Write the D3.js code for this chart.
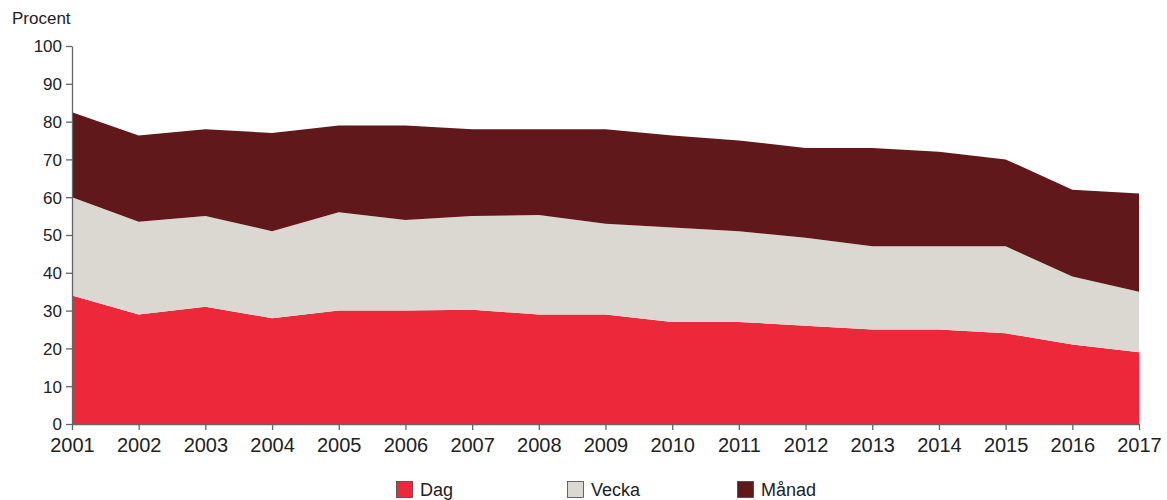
<!DOCTYPE html>
<html>
<head>
<meta charset="utf-8">
<script src="https://cdn.jsdelivr.net/npm/d3@7"></script>
<style>
  body { margin: 0; background: #fff; }
  svg { display: block; font-family: "Liberation Sans", Arial, sans-serif; }
</style>
</head>
<body>
<div id="chart"></div>
<script>
const years = [2001, 2002, 2003, 2004, 2005, 2006, 2007, 2008, 2009,
  2010, 2011, 2012, 2013, 2014, 2015, 2016, 2017];

const dag = [34, 29, 31, 28, 30, 30, 30.2, 29, 29, 27, 27, 26, 25, 25, 24, 21, 19];
const vecka = [26, 24.5, 24, 23, 26, 24, 24.8, 26.3, 24, 25, 24, 23.3, 22, 22, 23, 18, 16];
const manad = [22.5, 22.8, 23, 26, 23, 25, 23, 22.7, 25, 24.3, 24, 23.7, 26, 25, 23, 23, 26];

const fields = ["Dag", "Vecka", "Månad"];
const colors = ["#ed283a", "#dbd8d1", "#61181a"];
const yTicks = [0, 10, 20, 30, 40, 50, 60, 70, 80, 90, 100];

const colorScale = d3.scaleOrdinal().domain(fields).range(colors);

const dataset = years.map((y, i) => ({
  year: y,
  Dag: dag[i],
  Vecka: vecka[i],
  "Månad": manad[i],
}));

const containerWidth = 1167,
  containerHeight = 500,
  margin = { top: 46, right: 28, bottom: 76, left: 72 },
  width = containerWidth - margin.left - margin.right,
  height = containerHeight - margin.top - margin.bottom;

const svg = d3
  .select("#chart")
  .append("svg")
  .attr("width", containerWidth)
  .attr("height", containerHeight);

const graph = svg
  .append("g")
  .attr("transform", `translate(${margin.left}, ${margin.top})`);

const xScale = d3.scaleLinear().domain([2001, 2017]).range([0, width]);
const yScale = d3.scaleLinear().domain([0, 100]).range([height, 0]);

const stackedData = d3.stack().keys(fields)(dataset);

const area = d3
  .area()
  .x((d) => xScale(d.data.year))
  .y0((d) => yScale(d[0]))
  .y1((d) => yScale(d[1]));

graph
  .append("g")
  .attr("class", "stackedarea")
  .selectAll("path")
  .data(stackedData)
  .enter()
  .append("path")
  .attr("fill", (d) => colorScale(d.key))
  .attr("d", area);

// axes
const xAxis = d3
  .axisBottom(xScale)
  .tickValues(years)
  .tickFormat(d3.format("d"))
  .tickSizeInner(6)
  .tickSizeOuter(0)
  .tickPadding(8);
const xAxisGroup = graph
  .append("g")
  .attr("transform", `translate(0, ${height})`)
  .call(xAxis);
xAxisGroup.selectAll("text").attr("font-size", "20px").attr("fill", "#222");

const yAxis = d3
  .axisLeft(yScale)
  .tickValues(yTicks)
  .tickSizeInner(6)
  .tickSizeOuter(0)
  .tickPadding(4);
const yAxisGroup = graph.append("g").call(yAxis);
yAxisGroup
  .selectAll("text")
  .attr("font-size", "17px")
  .attr("fill", "#222")
  .attr("dy", "0.35em");

graph.selectAll(".domain, .tick line").attr("stroke", "#666").attr("stroke-width", 1.3);

svg
  .append("text")
  .attr("x", 12)
  .attr("y", 24)
  .attr("font-size", "17px")
  .attr("fill", "#222")
  .text("Procent");

// legends
const legendX = [396, 567, 737];
const legend = svg
  .selectAll(".legend")
  .data(fields)
  .enter()
  .append("g")
  .attr("class", "legend")
  .attr("transform", (d, i) => `translate(${legendX[i]}, 481)`);

legend
  .append("rect")
  .attr("x", 0.5)
  .attr("y", 0.5)
  .attr("width", 16)
  .attr("height", 16)
  .attr("stroke", "#444")
  .attr("stroke-width", 0.8)
  .style("fill", colorScale);

legend
  .append("text")
  .attr("x", 24)
  .attr("y", 15)
  .attr("font-size", "18px")
  .attr("fill", "#222")
  .text((d) => d);
</script>
</body>
</html>
